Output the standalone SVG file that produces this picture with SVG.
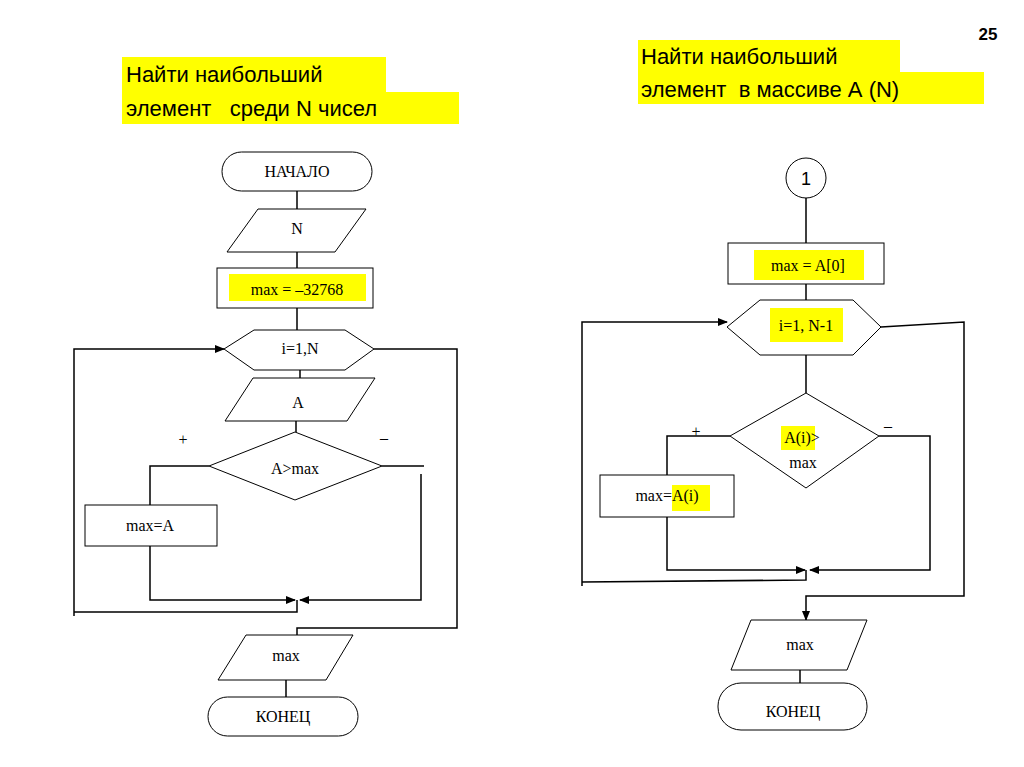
<svg xmlns="http://www.w3.org/2000/svg" width="1024" height="767" viewBox="0 0 1024 767">
<defs>
<style>
.s{fill:#fff;stroke:#000;stroke-width:1}
.c{fill:none;stroke:#000;stroke-width:1.5}
.t{font-family:"Liberation Serif",serif;font-size:16px;text-anchor:middle}
.h{font-family:"Liberation Sans",Arial,sans-serif;font-size:22px}
.y{fill:#ffff00}
</style>
<marker id="a" markerWidth="10" markerHeight="8" refX="9" refY="4" orient="auto" markerUnits="userSpaceOnUse"><path d="M0,0 L10,4 L0,8 z"/></marker>
</defs>
<rect width="1024" height="767" fill="#fff"/>
<text x="988" y="40" font-family="Liberation Sans,sans-serif" font-size="17" font-weight="bold" text-anchor="middle">25</text>
<g id="title1"><rect class="y" x="122" y="57" width="264" height="35"/><rect class="y" x="122" y="92" width="337" height="32"/>
<text class="h" x="126" y="82">Найти наибольший</text><text class="h" x="126" y="116" xml:space="preserve">элемент   среди N чисел</text></g>
<g id="title2"><rect class="y" x="638" y="40" width="262" height="32"/><rect class="y" x="638" y="72" width="346" height="32"/>
<text class="h" x="641" y="64">Найти наибольший</text><text class="h" x="641" y="97" xml:space="preserve">элемент  в массиве А (N)</text></g>

<g id="connectors">
<path class="c" d="M297,191V209M297,252V268M297,308V330M300,370V378M296,421V432"/>
<path class="c" d="M209,466H150V505M150,546V600H295" marker-end="url(#a)"/>
<path class="c" d="M382,466H424M421,474V600H300" marker-end="url(#a)"/>
<path class="c" d="M297,600V612H74M74,616V349H224" marker-end="url(#a)"/>
<path class="c" d="M374,349H457V628H297V635M286,672V697"/>
<path class="c" d="M806,198V243M806,284V300M806,355V393"/>
<path class="c" d="M730,436H667V475M667,517V570H805" marker-end="url(#a)"/>
<path class="c" d="M879,436H930V570H810" marker-end="url(#a)"/>
<path class="c" d="M806,570V580L582,582M582,586V322H727" marker-end="url(#a)"/>
<path class="c" d="M881,327L964,322V596H806V620" marker-end="url(#a)"/>
<path class="c" d="M800,670V683"/>
</g>

<g id="start"><rect class="s" x="222" y="152" width="150" height="39" rx="19.5"/><text class="t" x="297" y="177" font-size="14">НАЧАЛО</text></g>
<g id="inN"><polygon class="s" points="258,209 366,209 335,252 227,252"/><text class="t" x="297" y="234">N</text></g>
<g id="init1"><rect class="s" x="217" y="268" width="156" height="40"/><rect class="y" x="229" y="274" width="137" height="27"/><text class="t" x="297" y="295" font-size="18">max = –32768</text></g>
<g id="loop1"><polygon class="s" points="224,349 254,330 345,330 374,349 345,370 254,370"/><text class="t" x="300" y="354">i=1,N</text></g>
<g id="inA"><polygon class="s" points="253,378 375,378 347,421 225,421"/><text class="t" x="298" y="408" font-size="18">A</text></g>
<g id="cond1"><polygon class="s" points="295,432 382,466 295,500 209,466"/><text class="t" x="295" y="474">A&gt;max</text></g>
<text class="t" x="183" y="445">+</text><text class="t" x="384" y="443">–</text>
<g id="set1"><rect class="s" x="85" y="505" width="132" height="41"/><text class="t" x="150" y="531" font-size="17">max=A</text></g>
<g id="out1"><polygon class="s" points="246,635 353,635 326,680 218,680"/><text class="t" x="286" y="661">max</text></g>
<g id="end1"><rect class="s" x="208" y="697" width="150" height="39" rx="19.5"/><text class="t" x="283" y="722" font-size="14">КОНЕЦ</text></g>

<g id="conn1"><circle class="s" cx="806" cy="178" r="20"/><text x="806" y="185" font-family="Liberation Sans,sans-serif" font-size="18" text-anchor="middle">1</text></g>
<g id="init2"><rect class="s" x="728" y="243" width="156" height="41"/><rect class="y" x="754" y="250" width="110" height="30"/><text class="t" x="808" y="271" font-size="18">max = A[0]</text></g>
<g id="loop2"><polygon class="s" points="727,327 760,300 853,300 881,327 853,355 760,355"/><rect class="y" x="770" y="308" width="73" height="34"/><text class="t" x="806" y="331">i=1, N-1</text></g>
<g id="cond2"><polygon class="s" points="806,393 879,436 806,488 730,436"/><rect class="y" x="781" y="426" width="34" height="24"/><text class="t" x="802" y="443">A(i)&gt;</text><text class="t" x="803" y="468">max</text></g>
<text class="t" x="696" y="437">+</text><text class="t" x="888" y="431">–</text>
<g id="set2"><rect class="s" x="600" y="475" width="134" height="42"/><rect class="y" x="672" y="485" width="38" height="26"/><text class="t" x="667" y="501">max=A(i)</text></g>
<g id="out2"><polygon class="s" points="751,620 867,620 847,670 731,670"/><text class="t" x="800" y="650">max</text></g>
<g id="end2"><rect class="s" x="718" y="683" width="149" height="47" rx="23"/><text class="t" x="793" y="717" font-size="14">КОНЕЦ</text></g>
</svg>
